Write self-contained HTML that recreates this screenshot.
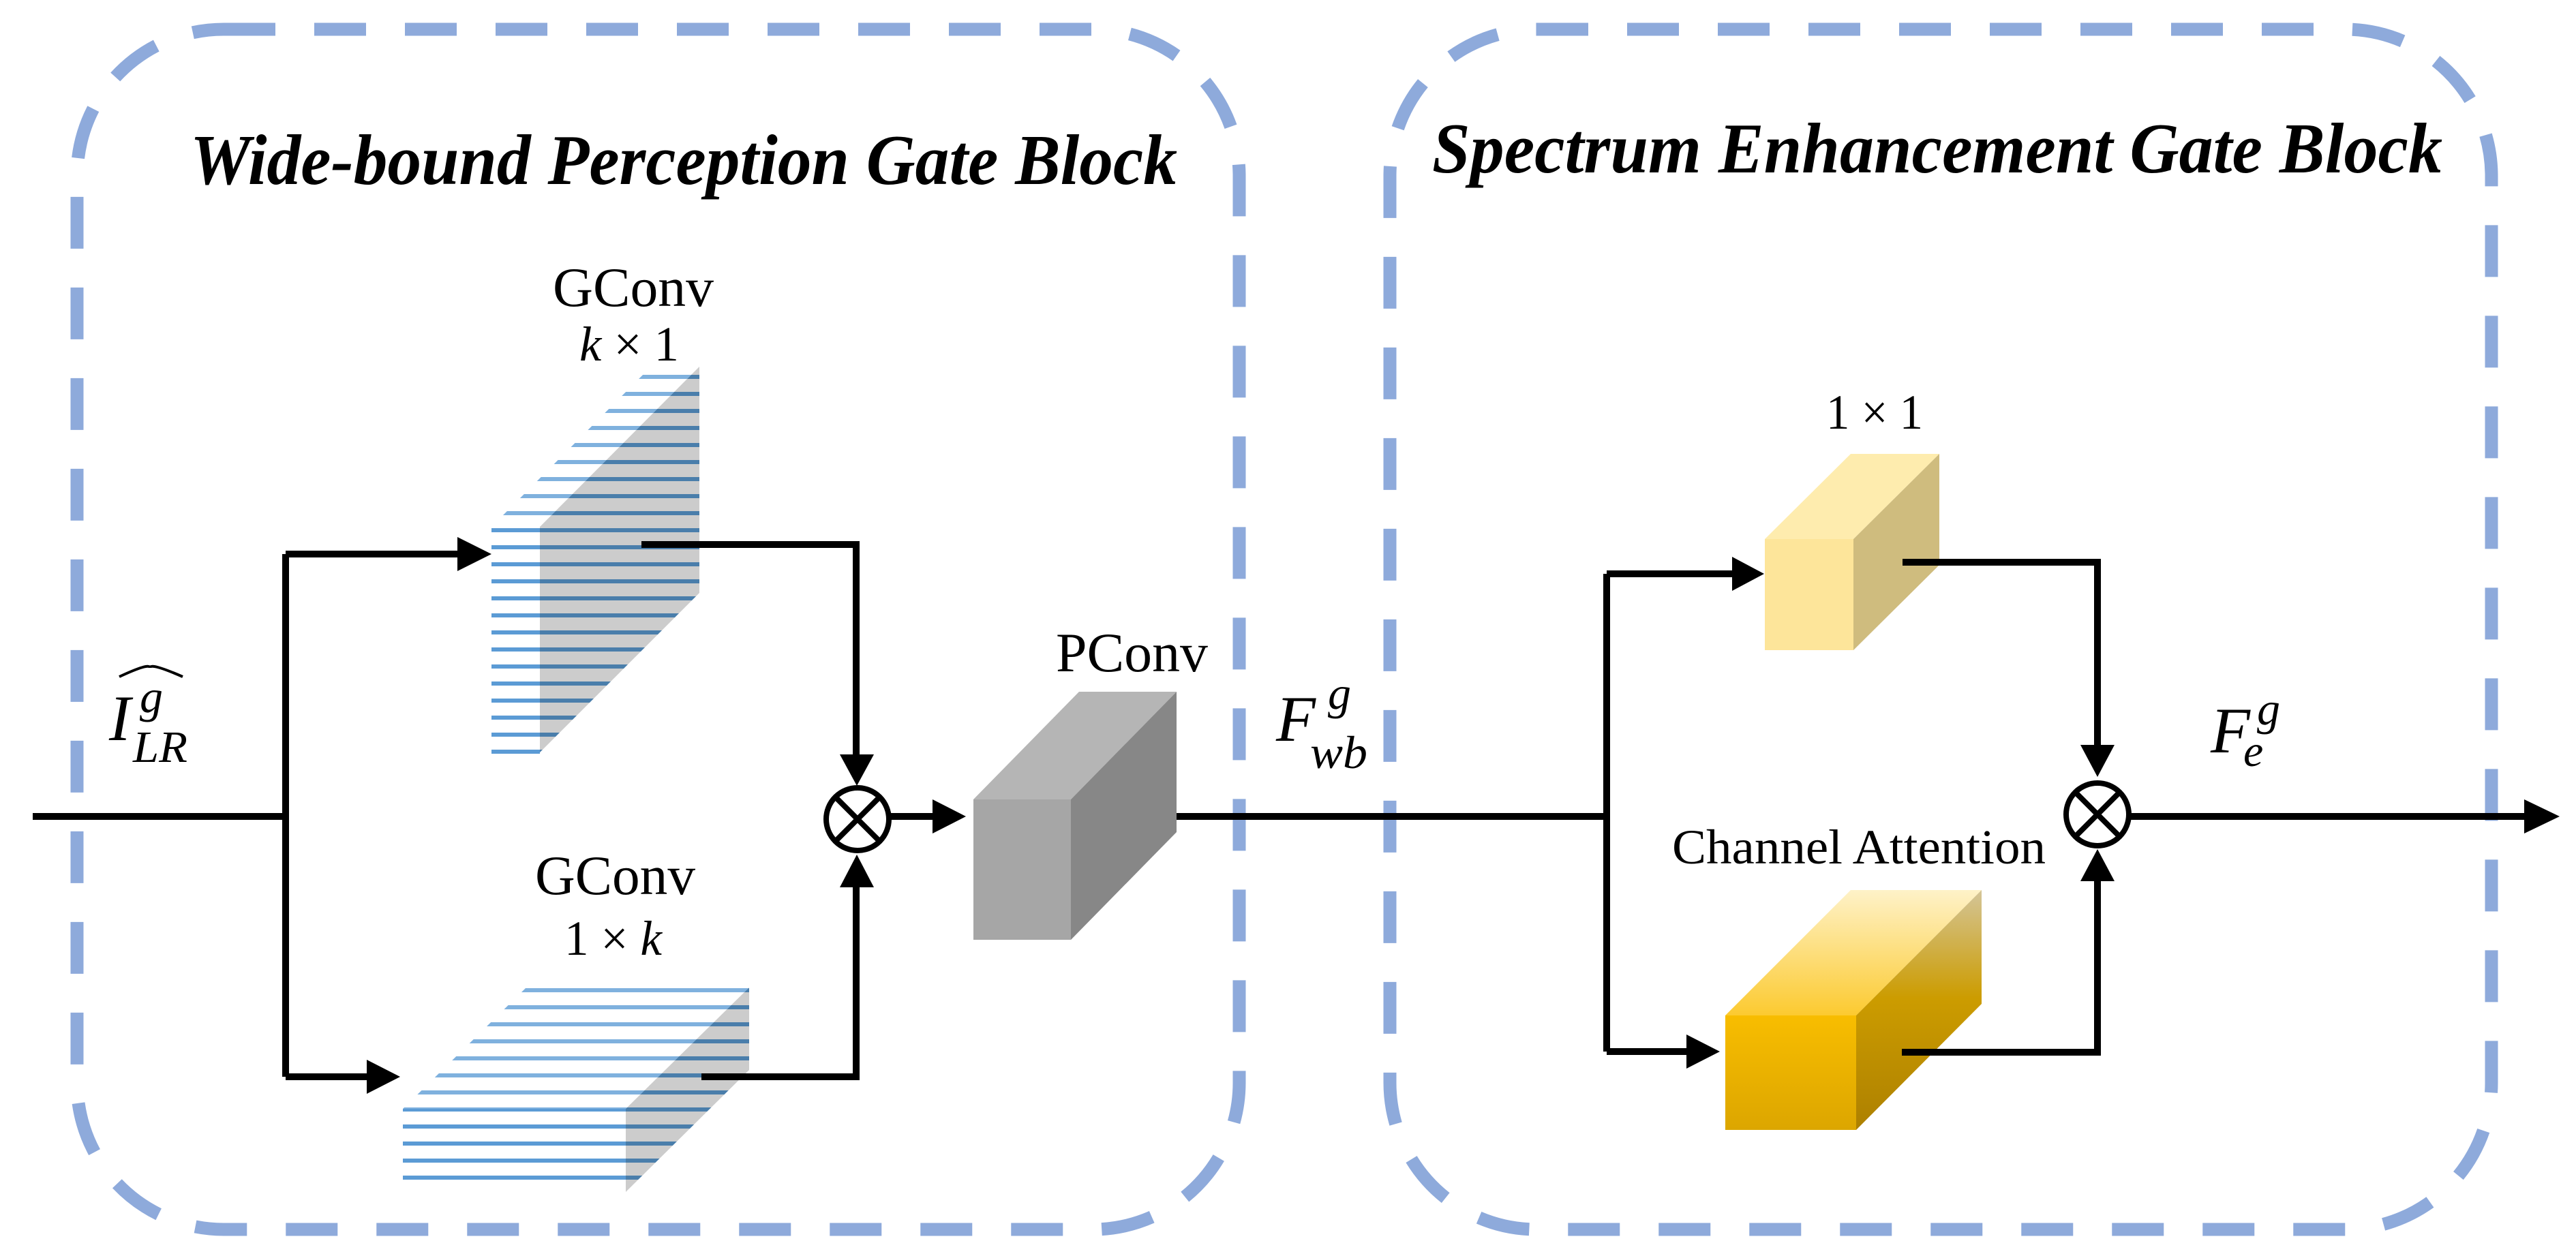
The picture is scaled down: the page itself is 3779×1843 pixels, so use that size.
<!DOCTYPE html>
<html><head><meta charset="utf-8"><style>
html,body{margin:0;padding:0;background:#fff;}
svg{display:block;}
text{font-family:"Liberation Serif",serif;fill:#000;}
.it{font-style:italic;}
</style></head><body>
<svg width="3779" height="1843" viewBox="0 0 3779 1843" xmlns="http://www.w3.org/2000/svg">
<defs>
<pattern id="pF1" patternUnits="userSpaceOnUse" x="0" y="550" width="20" height="25"><rect x="0" y="0" width="20" height="6" fill="#5b9bd5"/></pattern>
<pattern id="pT1" patternUnits="userSpaceOnUse" x="0" y="550" width="20" height="25"><rect x="0" y="0" width="20" height="6" fill="#7fb1de"/></pattern>
<pattern id="pS1" patternUnits="userSpaceOnUse" x="0" y="550" width="20" height="25"><rect x="0" y="0" width="20" height="25" fill="#cccccc"/><rect x="0" y="0" width="20" height="6" fill="#4a7eab"/></pattern>
<pattern id="pF2" patternUnits="userSpaceOnUse" x="0" y="1450" width="20" height="25"><rect x="0" y="0" width="20" height="6" fill="#5b9bd5"/></pattern>
<pattern id="pT2" patternUnits="userSpaceOnUse" x="0" y="1450" width="20" height="25"><rect x="0" y="0" width="20" height="6" fill="#7fb1de"/></pattern>
<pattern id="pS2" patternUnits="userSpaceOnUse" x="0" y="1450" width="20" height="25"><rect x="0" y="0" width="20" height="25" fill="#cccccc"/><rect x="0" y="0" width="20" height="6" fill="#4a7eab"/></pattern>
<linearGradient id="gF" x1="0" y1="0" x2="0" y2="1"><stop offset="0" stop-color="#f8bd00"/><stop offset="1" stop-color="#dca600"/></linearGradient>
<linearGradient id="gT" x1="0" y1="0" x2="0" y2="1"><stop offset="0" stop-color="#fef2c8"/><stop offset="1" stop-color="#fcca30"/></linearGradient>
<linearGradient id="gS" x1="0" y1="0" x2="0" y2="1"><stop offset="0" stop-color="#d4c598"/><stop offset="0.45" stop-color="#cc9c00"/><stop offset="1" stop-color="#ad8000"/></linearGradient>
</defs>

<rect x="113" y="43" width="1705" height="1761" rx="215" fill="none" stroke="#8eaadb" stroke-width="19" stroke-dasharray="76 57"/>
<rect x="2039" y="43" width="1616" height="1761" rx="215" fill="none" stroke="#8eaadb" stroke-width="19" stroke-dasharray="76 57"/>

<text x="279" y="270" font-size="105" font-weight="bold" font-style="italic" textLength="1448" lengthAdjust="spacingAndGlyphs">Wide-bound Perception Gate Block</text>
<text x="2101" y="253" font-size="105" font-weight="bold" font-style="italic" textLength="1482" lengthAdjust="spacingAndGlyphs">Spectrum Enhancement Gate Block</text>

<polygon points="721,773 792,773 792,1107 721,1107" fill="url(#pF1)"/>
<polygon points="721,773 955,538 1026,538 792,773" fill="url(#pT1)"/>
<polygon points="792,773 1026,538 1026,870 792,1104" fill="url(#pS1)"/>
<polygon points="591,1627 918,1627 918,1735 591,1735" fill="url(#pF2)"/>
<polygon points="591,1627 772,1449 1099,1449 918,1627" fill="url(#pT2)"/>
<polygon points="918,1627 1099,1449 1099,1570 918,1749" fill="url(#pS2)"/>

<polygon points="1428,1173 1583,1015 1726,1015 1571,1173" fill="#b5b5b5"/>
<rect x="1428" y="1173" width="143" height="206" fill="#a6a6a6"/>
<polygon points="1571,1173 1726,1015 1726,1221 1571,1379" fill="#878787"/>

<polygon points="2589,791 2715,666 2845,666 2719,791" fill="#feecae"/>
<rect x="2589" y="791" width="130" height="163" fill="#fde59a"/>
<polygon points="2719,791 2845,666 2845,829 2719,954" fill="#cfbc7e"/>

<polygon points="2531,1490 2715,1306 2907,1306 2723,1490" fill="url(#gT)"/>
<rect x="2531" y="1490" width="192" height="168" fill="url(#gF)"/>
<polygon points="2723,1490 2907,1306 2907,1473 2723,1658" fill="url(#gS)"/>

<g fill="none" stroke="#000" stroke-width="10">
<path d="M48 1198 H419"/>
<path d="M419 813 V1580"/>
<path d="M419 813 H675"/>
<path d="M419 1580 H542"/>
<path d="M941 799 H1256 V1108"/>
<path d="M1029 1580 H1256 V1300"/>
<path d="M1305 1198 H1372"/>
<path d="M1726 1198 H2357"/>
<path d="M2357 842 V1543"/>
<path d="M2357 842 H2545"/>
<path d="M2357 1543 H2478"/>
<path d="M2791 825 H3077 V1095"/>
<path d="M2790 1544 H3077 V1292"/>
<path d="M3125 1198 H3706"/>
</g>
<g fill="#000">
<polygon points="671,788 721,813 671,838"/>
<polygon points="538,1555 587,1580 538,1605"/>
<polygon points="1232,1107 1257,1153 1282,1107"/>
<polygon points="1232,1302 1257,1254 1282,1302"/>
<polygon points="1368,1173 1417,1198 1368,1223"/>
<polygon points="2541,817 2588,842 2541,867"/>
<polygon points="2474,1518 2523,1543 2474,1568"/>
<polygon points="3052,1093 3077,1140 3102,1093"/>
<polygon points="3052,1293 3077,1246 3102,1293"/>
<polygon points="3703,1173 3755,1198 3703,1223"/>
</g>
<g fill="#fff" stroke="#000" stroke-width="8">
<circle cx="1258" cy="1202" r="46"/>
<circle cx="3077" cy="1195" r="46"/>
</g>
<g stroke="#000" stroke-width="8">
<path d="M1227 1171 L1289 1233 M1289 1171 L1227 1233"/>
<path d="M3046 1164 L3108 1226 M3108 1164 L3046 1226"/>
</g>

<text x="811" y="449" font-size="82" textLength="236" lengthAdjust="spacingAndGlyphs">GConv</text>
<text x="850" y="529" font-size="72" textLength="146" lengthAdjust="spacingAndGlyphs"><tspan class="it">k</tspan> × 1</text>
<text x="785" y="1312" font-size="82" textLength="235" lengthAdjust="spacingAndGlyphs">GConv</text>
<text x="828" y="1401" font-size="72" textLength="143" lengthAdjust="spacingAndGlyphs">1 × <tspan class="it">k</tspan></text>
<text x="1549" y="985" font-size="82" textLength="223" lengthAdjust="spacingAndGlyphs">PConv</text>
<text x="2679" y="629" font-size="72" textLength="142" lengthAdjust="spacingAndGlyphs">1 × 1</text>
<text x="2453" y="1267" font-size="72" textLength="548" lengthAdjust="spacingAndGlyphs">Channel Attention</text>

<text x="160" y="1086" font-size="95" class="it">I</text>
<text x="205" y="1045" font-size="68" class="it">g</text>
<text x="195" y="1118" font-size="66" class="it" textLength="80" lengthAdjust="spacingAndGlyphs">LR</text>
<path d="M175 993 Q220 972 220 980 Q220 972 268 993" fill="none" stroke="#000" stroke-width="4"/>

<text x="1872" y="1087" font-size="95" class="it">F</text>
<text x="1948" y="1040" font-size="68" class="it">g</text>
<text x="1922" y="1127" font-size="68" class="it" textLength="84" lengthAdjust="spacingAndGlyphs">wb</text>

<text x="3243" y="1104" font-size="95" class="it">F</text>
<text x="3311" y="1063" font-size="68" class="it">g</text>
<text x="3291" y="1124" font-size="66" class="it">e</text>
</svg>
</body></html>
